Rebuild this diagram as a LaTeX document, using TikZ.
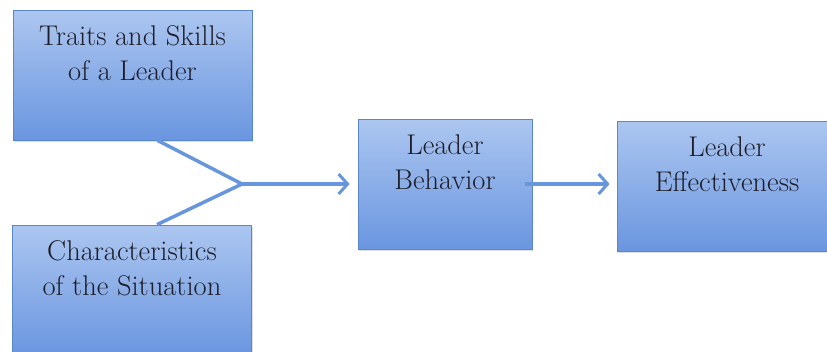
\documentclass[tikz,border=0pt]{standalone}
\usetikzlibrary{arrows.meta,positioning,shadows}
\definecolor{boxtop}{RGB}{172,198,240}
\definecolor{boxbot}{RGB}{106,150,224}
\definecolor{boxline}{RGB}{90,134,204}
\definecolor{linkblue}{RGB}{104,150,220}
\definecolor{ink}{RGB}{30,30,40}
\tikzset{
  block/.style={draw=boxline, line width=0.8pt, top color=boxtop,
    bottom color=boxbot, minimum width=239pt, minimum height=130pt,
    inner sep=0pt,
    drop shadow={shadow xshift=1pt, shadow yshift=-2pt, opacity=0.25}},
  caption/.style={anchor=north, align=center, text=ink, inner sep=0pt,
    font=\fontsize{28.5}{35}\selectfont},
  link/.style={draw=linkblue, line width=3.5pt},
}

\begin{document}
\begin{tikzpicture}[x=1pt,y=-1pt,
  >={Straight Barb[length=9pt,width=20pt,line width=3pt]}]
\useasboundingbox (0,0) rectangle (827,351);
\clip (0,0) rectangle (827,351);

% Define the boxes
\node[block] (traits) at (132.5,75) {};
\node[block] (situation) at (132,290) {};
\node[block, minimum width=174pt] (behavior) at (445,184) {};
\node[block, minimum width=220pt] (effect) at (727,186) {};

% Texts sit at the top of each box
\node[caption] (traitsText) at ([yshift=-16pt]traits.north) {Traits and Skills\\of a Leader};
\node[caption] (situationText) at ([yshift=-16pt]situation.north) {Characteristics\\of the Situation};
\node[caption] (behaviorText) at ([yshift=-16pt]behavior.north) {Leader\\Behavior};
\node[caption] (effectText) at ([yshift=-16pt]effect.north) {Leader\\Effectiveness};

% Draw the arrows
\coordinate (J) at (242,184);
\draw[link] ([xshift=25pt]traits.south) -- (J);
\draw[link] ([xshift=25pt]situation.north) -- (J);
\draw[link, ->, shorten >=8pt] (J) -- (behavior.west);
\draw[link, ->, shorten >=7pt] ([xshift=-7pt]behavior.east) -- (behavior.east -| effect.west);
\end{tikzpicture}
\end{document}
